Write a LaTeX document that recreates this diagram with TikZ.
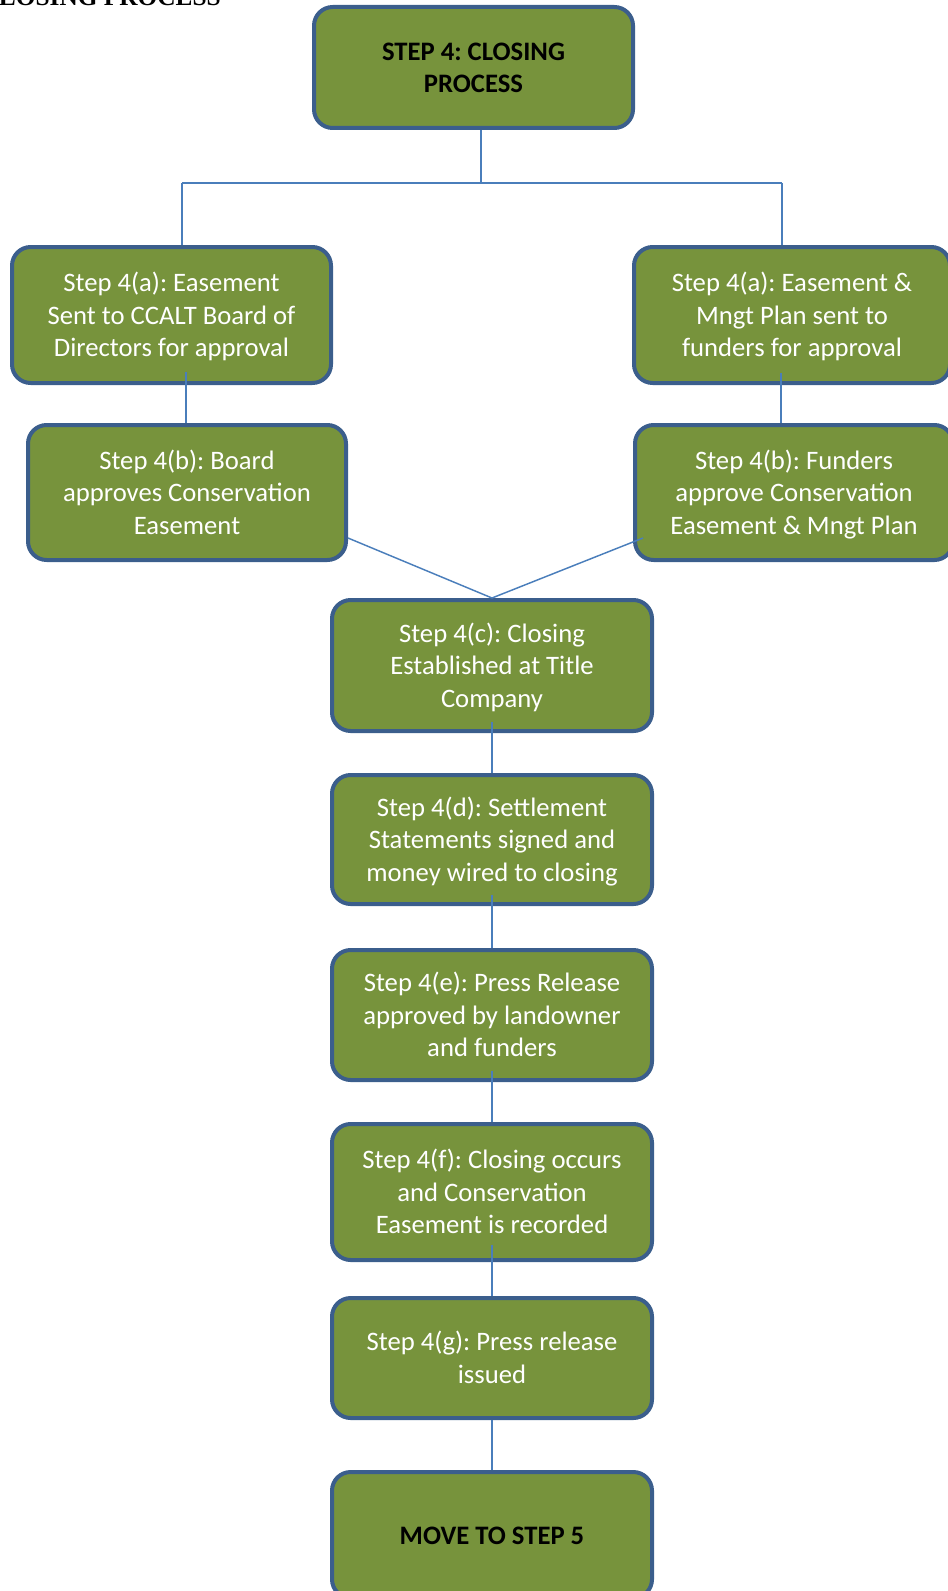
\documentclass[tikz,border=0pt]{standalone}
\usepackage{fontspec}
\setmainfont{Carlito}
\newfontfamily\titleserif{Liberation Serif}
\definecolor{boxgreen}{HTML}{77933C}
\definecolor{boxedge}{HTML}{3B5E8C}
\definecolor{linkblue}{HTML}{4A7EBB}
\frenchspacing
\newcommand\wtop{\rule{0pt}{19pt}}
\newcommand\wbot{\rule[-5.4pt]{0pt}{5.4pt}}
\begin{document}
\begin{tikzpicture}[x=0.75pt,y=-0.75pt,
  stepbox/.style={draw=boxedge, line width=3pt, fill=boxgreen, rounded corners=14pt,
    align=center, text=white, font=\fontsize{20}{24.4}\selectfont, inner sep=0pt},
  headbox/.style={stepbox, text=black, font=\fontsize{20}{24.4}\selectfont\bfseries},
  conn/.style={draw=linkblue, line width=1.1pt}]
\clip (0,0) rectangle (948,1591);

% cut-off heading
\node[anchor=base east, inner sep=0pt, font=\titleserif\bfseries\fontsize{19}{23}\selectfont] (heading) at (221,6) {CLOSING PROCESS};

% boxes
\node[headbox, minimum width=239.25pt, minimum height=90.75pt] (top) at (473.5,67.5) {\wtop STEP 4: CLOSING\\PROCESS\wbot};
\node[stepbox, minimum width=239.25pt, minimum height=102pt] (la) at (171.5,315) {\wtop Step 4(a): Easement\\Sent to CCALT Board of\\Directors for approval\wbot};
\node[stepbox, minimum width=238.5pt, minimum height=101.25pt] (lb) at (187,492.5) {\wtop Step 4(b): Board\\approves Conservation\\Easement\wbot};
\node[stepbox, minimum width=237pt, minimum height=102pt] (ra) at (792,315) {\wtop Step 4(a): Easement \&\\Mngt Plan sent to\\funders for approval\wbot};
\node[stepbox, minimum width=238.5pt, minimum height=101.25pt] (rb) at (794,492.5) {\wtop Step 4(b): Funders\\approve Conservation\\Easement \& Mngt Plan\wbot};
\node[stepbox, minimum width=240pt, minimum height=98.25pt] (c) at (492,665.5) {\wtop Step 4(c): Closing\\Established at Title\\Company\wbot};
\node[stepbox, minimum width=240pt, minimum height=96.75pt] (d) at (492,839.5) {\wtop Step 4(d): Settlement\\Statements signed and\\money wired to closing\wbot};
\node[stepbox, minimum width=240pt, minimum height=97.5pt] (e) at (492,1015) {\wtop Step 4(e): Press Release\\approved by landowner\\and funders\wbot};
\node[stepbox, minimum width=240pt, minimum height=102pt] (f) at (492,1192) {\wtop Step 4(f): Closing occurs\\and Conservation\\Easement is recorded\wbot};
\node[stepbox, minimum width=240pt, minimum height=90pt] (g) at (492,1358) {\wtop Step 4(g): Press release\\issued\wbot};
\node[headbox, minimum width=240pt, minimum height=94.5pt] (move) at (492,1535) {\wtop MOVE TO STEP 5\wbot};

% connector points
\coordinate (jm) at (481,183);
\coordinate (jl) at (182,183);
\coordinate (jr) at (782,183);
\coordinate (la1) at (186,372);
\coordinate (ra1) at (781,373);
\coordinate (lb1) at (348,538);
\coordinate (rb1) at (643,538);
\coordinate (c1) at (492,722);
\coordinate (d1) at (492,895);
\coordinate (e1) at (492,1071);
\coordinate (f1) at (492,1245);

% connectors
\draw[conn] (jm |- top.south) -- (jm);
\draw[conn] (jl) -- (jr);
\draw[conn] (jl) -- (jl |- la.north);
\draw[conn] (jr) -- (jr |- ra.north);
\draw[conn] (la1) -- (la1 |- lb.north);
\draw[conn] (ra1) -- (ra1 |- rb.north);
\draw[conn] (lb1) -- (c.north);
\draw[conn] (rb1) -- (c.north);
\draw[conn] (c1) -- (d.north);
\draw[conn] (d1) -- (e.north);
\draw[conn] (e1) -- (f.north);
\draw[conn] (f1) -- (g.north);
\draw[conn] (g.south) -- (move.north);
\end{tikzpicture}
\end{document}
